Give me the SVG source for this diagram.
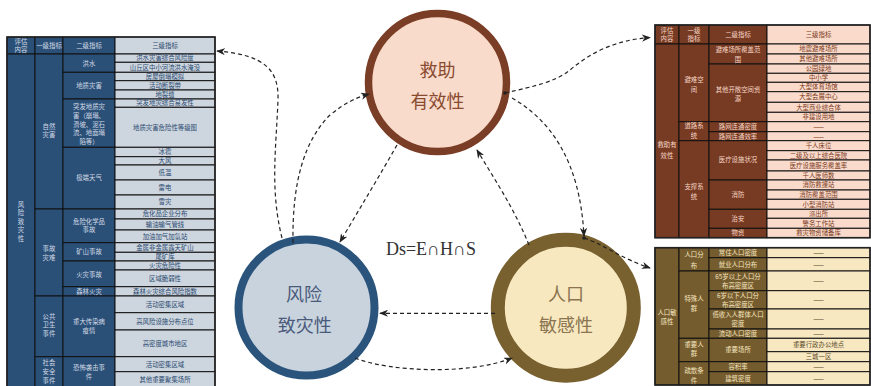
<svg xmlns="http://www.w3.org/2000/svg" width="871" height="386" viewBox="0 0 871 386">
<style>
text{font-family:"Noto Sans CJK SC","Noto Sans",sans-serif;text-anchor:middle}
.t{font-size:6.4px}
.ld{fill:#2a5078;stroke:#111;stroke-width:1}
.ll{fill:#cdd5de;stroke:#111;stroke-width:1}
.ltd{fill:#d3dae4}
.ltl{fill:#2a4a70}
.bd{fill:#773a22;stroke:#111;stroke-width:1}
.bl{fill:#fadbcb;stroke:#111;stroke-width:1}
.btd{fill:#f6d6c6}
.btl{fill:#7a3a22}
.od{fill:#755c2e;stroke:#111;stroke-width:1}
.ol{fill:#f8e8c2;stroke:#111;stroke-width:1}
.otd{fill:#f5e6c0}
.otl{fill:#5a4a28}
.frame{fill:none;stroke:#222;stroke-width:1.6}
.cn{fill:none;stroke:#222;stroke-width:1.2;stroke-dasharray:4 3}
.big{font-size:18px}
</style>
<defs>
<marker id="arr" viewBox="0 0 10 8" refX="9" refY="4" markerWidth="9" markerHeight="7.2" markerUnits="userSpaceOnUse" orient="auto">
<path d="M0,0 L10,4 L0,8 L3,4 z" fill="#222"/>
</marker>
</defs>
<rect width="871" height="386" fill="#fff"/>

<!-- Left table -->
<g id="table-left">
<rect class="ld" x="7" y="37" width="28" height="17"/>
<rect class="ld" x="35" y="37" width="28" height="17"/>
<rect class="ld" x="63" y="37" width="52" height="17"/>
<rect class="ll" x="115" y="37" width="100" height="17"/>
<rect class="ld" x="7" y="54" width="28" height="336"/>
<rect class="ld" x="35" y="54" width="28" height="155"/>
<rect class="ld" x="35" y="209" width="28" height="87"/>
<rect class="ld" x="35" y="296" width="28" height="60.7"/>
<rect class="ld" x="35" y="356.7" width="28" height="33.3"/>
<rect class="ld" x="63" y="54" width="52" height="18.3"/>
<rect class="ld" x="63" y="72.3" width="52" height="26.7"/>
<rect class="ld" x="63" y="99" width="52" height="48.3"/>
<rect class="ld" x="63" y="147.3" width="52" height="61.7"/>
<rect class="ld" x="63" y="209" width="52" height="33.7"/>
<rect class="ld" x="63" y="242.7" width="52" height="18.3"/>
<rect class="ld" x="63" y="261" width="52" height="25.7"/>
<rect class="ld" x="63" y="286.7" width="52" height="9.3"/>
<rect class="ld" x="63" y="296" width="52" height="60.7"/>
<rect class="ld" x="63" y="356.7" width="52" height="33.3"/>
<rect class="ll" x="115" y="54" width="100" height="8.3"/>
<rect class="ll" x="115" y="62.3" width="100" height="10"/>
<rect class="ll" x="115" y="72.3" width="100" height="8.4"/>
<rect class="ll" x="115" y="80.7" width="100" height="9.3"/>
<rect class="ll" x="115" y="90" width="100" height="9"/>
<rect class="ll" x="115" y="99" width="100" height="8.3"/>
<rect class="ll" x="115" y="107.3" width="100" height="40"/>
<rect class="ll" x="115" y="147.3" width="100" height="9.4"/>
<rect class="ll" x="115" y="156.7" width="100" height="8.3"/>
<rect class="ll" x="115" y="165" width="100" height="15"/>
<rect class="ll" x="115" y="180" width="100" height="15"/>
<rect class="ll" x="115" y="195" width="100" height="14"/>
<rect class="ll" x="115" y="209" width="100" height="10"/>
<rect class="ll" x="115" y="219" width="100" height="11"/>
<rect class="ll" x="115" y="230" width="100" height="12.7"/>
<rect class="ll" x="115" y="242.7" width="100" height="9.6"/>
<rect class="ll" x="115" y="252.3" width="100" height="8.7"/>
<rect class="ll" x="115" y="261" width="100" height="9"/>
<rect class="ll" x="115" y="270" width="100" height="16.7"/>
<rect class="ll" x="115" y="286.7" width="100" height="9.3"/>
<rect class="ll" x="115" y="296" width="100" height="16.7"/>
<rect class="ll" x="115" y="312.7" width="100" height="17.3"/>
<rect class="ll" x="115" y="330" width="100" height="26.7"/>
<rect class="ll" x="115" y="356.7" width="100" height="15"/>
<rect class="ll" x="115" y="371.7" width="100" height="18.3"/>
<path class="frame" d="M7,390 V37 H215 V390"/>
<g class="t ltd">
<text x="21" y="43.6">评估</text><text x="21" y="52.4">内容</text>
<text x="49" y="47.8">一级指标</text>
<text x="89" y="47.8">二级指标</text>
<text x="21" y="206.5">风</text><text x="21" y="215">险</text><text x="21" y="223.5">致</text><text x="21" y="232">灾</text><text x="21" y="240.5">性</text>
<text x="49" y="128.8">自然</text><text x="49" y="137.4">灾害</text>
<text x="49" y="250.5">事故</text><text x="49" y="259.5">灾难</text>
<text x="49" y="318.8">公共</text><text x="49" y="327.4">卫生</text><text x="49" y="336">事件</text>
<text x="49" y="365.4">社会</text><text x="49" y="374">安全</text><text x="49" y="382.6">事件</text>
<text x="89" y="65.5">洪水</text>
<text x="89" y="88">地质灾害</text>
<text x="89" y="109.4">突发地质灾</text><text x="89" y="118">害（崩塌、</text><text x="89" y="126.6">滑坡、泥石</text><text x="89" y="135.2">流、地面塌</text><text x="89" y="143.8">陷等）</text>
<text x="89" y="180.3">极端天气</text>
<text x="89" y="223.6">危险化学品</text><text x="89" y="232.2">事故</text>
<text x="89" y="254.2">矿山事故</text>
<text x="89" y="276.8">火灾事故</text>
<text x="89" y="293.7">森林火灾</text>
<text x="89" y="324.4">重大传染病</text><text x="89" y="333">疫情</text>
<text x="89" y="370.4">恐怖袭击事</text><text x="89" y="379">件</text>
</g>
<g class="t ltl">
<text x="165" y="47.8">三级指标</text>
<text x="165" y="60.4">洪水灾害综合风险度</text>
<text x="165" y="69.6">山丘区中小河流洪水淹没</text>
<text x="165" y="78.8">房屋倒塌模拟</text>
<text x="165" y="87.7">活动断裂带</text>
<text x="165" y="96.8">地裂缝</text>
<text x="165" y="105.4">突发地灾综合易发性</text>
<text x="165" y="129.6">地质灾害危险性等级图</text>
<text x="165" y="154.3">冰雹</text>
<text x="165" y="163.2">大风</text>
<text x="165" y="174.8">低温</text>
<text x="165" y="189.8">雷电</text>
<text x="165" y="204.3">雪灾</text>
<text x="165" y="216.3">危化品企业分布</text>
<text x="165" y="226.8">输油输气管线</text>
<text x="165" y="238.7">加油加气加氢站</text>
<text x="165" y="249.8">金属非金属露天矿山</text>
<text x="165" y="259">尾矿库</text>
<text x="165" y="267.8">火灾危险性</text>
<text x="165" y="280.7">区域脆弱性</text>
<text x="165" y="293.7">森林火灾综合风险指数</text>
<text x="165" y="306.7">活动密集区域</text>
<text x="165" y="323.7">高风险设施分布点位</text>
<text x="165" y="345.7">高密度城市地区</text>
<text x="165" y="366.5">活动密集区域</text>
<text x="165" y="382.3">其他重要聚集场所</text>
</g>
</g>

<!-- Right top table -->
<g id="table-right-top">
<rect class="bd" x="655" y="25" width="24" height="19"/>
<rect class="bd" x="679" y="25" width="30" height="19"/>
<rect class="bd" x="709" y="25" width="58" height="19"/>
<rect class="bl" x="767" y="25" width="103" height="19"/>
<rect class="bd" x="655" y="44" width="24" height="193.7"/>
<rect class="bd" x="679" y="44" width="30" height="77.7"/>
<rect class="bd" x="679" y="121.7" width="30" height="19"/>
<rect class="bd" x="679" y="140.7" width="30" height="97"/>
<rect class="bd" x="709" y="44" width="58" height="20"/>
<rect class="bd" x="709" y="64" width="58" height="57.7"/>
<rect class="bd" x="709" y="121.7" width="58" height="10"/>
<rect class="bd" x="709" y="131.7" width="58" height="9"/>
<rect class="bd" x="709" y="140.7" width="58" height="39.3"/>
<rect class="bd" x="709" y="180" width="58" height="29.3"/>
<rect class="bd" x="709" y="209.3" width="58" height="19"/>
<rect class="bd" x="709" y="228.3" width="58" height="9.4"/>
<rect class="bl" x="767" y="44" width="103" height="10"/>
<rect class="bl" x="767" y="54" width="103" height="10"/>
<rect class="bl" x="767" y="64" width="103" height="9.3"/>
<rect class="bl" x="767" y="73.3" width="103" height="9"/>
<rect class="bl" x="767" y="82.3" width="103" height="9.4"/>
<rect class="bl" x="767" y="91.7" width="103" height="10.6"/>
<rect class="bl" x="767" y="102.3" width="103" height="10"/>
<rect class="bl" x="767" y="112.3" width="103" height="9.4"/>
<rect class="bl" x="767" y="121.7" width="103" height="10"/>
<rect class="bl" x="767" y="131.7" width="103" height="9"/>
<rect class="bl" x="767" y="140.7" width="103" height="10"/>
<rect class="bl" x="767" y="150.7" width="103" height="9.3"/>
<rect class="bl" x="767" y="160" width="103" height="11"/>
<rect class="bl" x="767" y="171" width="103" height="9"/>
<rect class="bl" x="767" y="180" width="103" height="10"/>
<rect class="bl" x="767" y="190" width="103" height="9.3"/>
<rect class="bl" x="767" y="199.3" width="103" height="10"/>
<rect class="bl" x="767" y="209.3" width="103" height="9"/>
<rect class="bl" x="767" y="218.3" width="103" height="10"/>
<rect class="bl" x="767" y="228.3" width="103" height="9.4"/>
<rect class="frame" x="655" y="25" width="215" height="212.7"/>
<g class="t btd">
<text x="667" y="32.6">评估</text><text x="667" y="41.4">内容</text>
<text x="694" y="32.6">一级</text><text x="694" y="41.4">指标</text>
<text x="738" y="36.8">二级指标</text>
<text x="667" y="147.3">救助有</text><text x="667" y="157.5">效性</text>
<text x="694" y="82.3">避难空</text><text x="694" y="92.3">间</text>
<text x="694" y="128.4">道路系</text><text x="694" y="137.8">统</text>
<text x="694" y="189">支撑系</text><text x="694" y="199">统</text>
<text x="738" y="51.6">避难场所覆盖范</text><text x="738" y="61.6">围</text>
<text x="738" y="91.6">其他开敞空间资</text><text x="738" y="100.8">源</text>
<text x="738" y="129">路网连通密度</text>
<text x="738" y="138.5">路网连通效率</text>
<text x="738" y="162.3">医疗设施状况</text>
<text x="738" y="197">消防</text>
<text x="738" y="221.1">治安</text>
<text x="738" y="235.3">物资</text>
</g>
<g class="t btl">
<text x="818.5" y="36.8">三级指标</text>
<text x="818.5" y="51.3">地震避难场所</text>
<text x="818.5" y="61.3">其他避难场所</text>
<text x="818.5" y="71">公园绿地</text>
<text x="818.5" y="80.1">中小学</text>
<text x="818.5" y="89.3">大型体育场馆</text>
<text x="818.5" y="99.3">大型会展中心</text>
<text x="818.5" y="109.6">大型商业综合体</text>
<text x="818.5" y="119.3">非建设用地</text>
<text x="818.5" y="129">——</text>
<text x="818.5" y="138.5">——</text>
<text x="818.5" y="148">千人床位</text>
<text x="818.5" y="157.7">二级及以上综合医院</text>
<text x="818.5" y="167.8">医疗设施服务覆盖率</text>
<text x="818.5" y="177.8">千人医师数</text>
<text x="818.5" y="187.3">消防救援站</text>
<text x="818.5" y="197">消防覆盖范围</text>
<text x="818.5" y="206.6">小型消防站</text>
<text x="818.5" y="216.1">派出所</text>
<text x="818.5" y="225.6">警务工作站</text>
<text x="818.5" y="235.3">救灾物资储备库</text>
</g>
</g>

<!-- Right bottom table -->
<g id="table-right-bottom">
<rect class="od" x="655" y="247.7" width="24" height="137.3"/>
<rect class="od" x="679" y="247.7" width="30" height="23.3"/>
<rect class="od" x="679" y="271" width="30" height="67.3"/>
<rect class="od" x="679" y="338.3" width="30" height="23.4"/>
<rect class="od" x="679" y="361.7" width="30" height="23.3"/>
<rect class="od" x="709" y="247.7" width="58" height="10"/>
<rect class="od" x="709" y="257.7" width="58" height="13.3"/>
<rect class="od" x="709" y="271" width="58" height="19.7"/>
<rect class="od" x="709" y="290.7" width="58" height="18.3"/>
<rect class="od" x="709" y="309" width="58" height="20"/>
<rect class="od" x="709" y="329" width="58" height="9.3"/>
<rect class="od" x="709" y="338.3" width="58" height="23.4"/>
<rect class="od" x="709" y="361.7" width="58" height="10"/>
<rect class="od" x="709" y="371.7" width="58" height="13.3"/>
<rect class="ol" x="767" y="247.7" width="103" height="10"/>
<rect class="ol" x="767" y="257.7" width="103" height="13.3"/>
<rect class="ol" x="767" y="271" width="103" height="19.7"/>
<rect class="ol" x="767" y="290.7" width="103" height="18.3"/>
<rect class="ol" x="767" y="309" width="103" height="20"/>
<rect class="ol" x="767" y="329" width="103" height="9.3"/>
<rect class="ol" x="767" y="338.3" width="103" height="13.4"/>
<rect class="ol" x="767" y="351.7" width="103" height="10"/>
<rect class="ol" x="767" y="361.7" width="103" height="10"/>
<rect class="ol" x="767" y="371.7" width="103" height="13.3"/>
<rect class="frame" x="655" y="247.7" width="215" height="137.3"/>
<g class="t otd">
<text x="667" y="314.8">人口敏</text><text x="667" y="323.8">感性</text>
<text x="694" y="257.3">人口分</text><text x="694" y="268">布</text>
<text x="694" y="300.6">特殊人</text><text x="694" y="310.6">群</text>
<text x="694" y="346.6">重要人</text><text x="694" y="355.6">群</text>
<text x="694" y="373.3">疏散条</text><text x="694" y="383">件</text>
<text x="738" y="255">常住人口密度</text>
<text x="738" y="266.7">就业人口分布</text>
<text x="738" y="278.6">65岁以上人口分</text><text x="738" y="287.6">布高密度区</text>
<text x="738" y="297.6">6岁以下人口分</text><text x="738" y="306.6">布高密度区</text>
<text x="738" y="316.6">低收入人群体人口</text><text x="738" y="325.6">密度</text>
<text x="738" y="336">流动人口密度</text>
<text x="738" y="352.3">重要场所</text>
<text x="738" y="369">容积率</text>
<text x="738" y="380.7">建筑密度</text>
</g>
<g class="t otl">
<text x="818.5" y="255">——</text>
<text x="818.5" y="266.7">——</text>
<text x="818.5" y="283.2">——</text>
<text x="818.5" y="302.2">——</text>
<text x="818.5" y="321.3">——</text>
<text x="818.5" y="336">——</text>
<text x="818.5" y="347.3">重要行政办公地点</text>
<text x="818.5" y="359">三城一区</text>
<text x="818.5" y="369">——</text>
<text x="818.5" y="380.7">——</text>
</g>
</g>

<!-- Nodes -->
<g id="node-rescue">
<circle cx="437.5" cy="82.5" r="69" fill="#f8dbcb" stroke="#7a3d25" stroke-width="7.5"/>
<text class="big" x="437.5" y="76.5" fill="#8a4a30">救助</text>
<text class="big" x="437.5" y="108" fill="#8a4a30">有效性</text>
</g>
<g id="node-hazard">
<circle cx="306.5" cy="307.5" r="68" fill="#c9d3de" stroke="#2b547c" stroke-width="8"/>
<text class="big" x="304" y="300.6" fill="#4a5a7a">风险</text>
<text class="big" x="304.7" y="332.3" fill="#4a5a7a">致灾性</text>
</g>
<g id="node-population">
<circle cx="565.8" cy="307.8" r="68" fill="#f8e8c0" stroke="#78602f" stroke-width="14"/>
<text class="big" x="566" y="300.6" fill="#8a7550">人口</text>
<text class="big" x="566" y="332.3" fill="#8a7550">敏感性</text>
</g>

<text x="431" y="255" style="font-family:'Liberation Serif','DejaVu Serif',serif;font-size:18px" fill="#333">Ds=E∩H∩S</text>

<!-- Connectors -->
<g id="connectors">
<path class="cn" d="M505,93 C535,86 555,82 570,70 C590,53 615,40 650,37.5" marker-end="url(#arr)"/>
<path class="cn" d="M282,238 C270,190 276,150 278,100 C279,70 265,55 217,51" marker-end="url(#arr)"/>
<path class="cn" d="M293,243 C292,180 305,140 330,115 C345,103 355,98 369,94" marker-end="url(#arr)"/>
<path class="cn" d="M397,145 C380,175 360,208 340,242" marker-end="url(#arr)"/>
<path class="cn" d="M529,245 C515,210 495,180 477,150" marker-end="url(#arr)"/>
<path class="cn" d="M512,98 C550,120 580,160 584,236" marker-end="url(#arr)"/>
<path class="cn" d="M584,238 C605,245 620,258 650,268" marker-end="url(#arr)"/>
<path class="cn" d="M495,313.3 L380,313.3" marker-end="url(#arr)"/>
<path class="cn" d="M355,358 C390,372 470,375 512,358" marker-end="url(#arr)"/>
<circle cx="505" cy="93" r="1.8" fill="#222"/>
<circle cx="584" cy="238" r="1.8" fill="#222"/>
</g>
</svg>
